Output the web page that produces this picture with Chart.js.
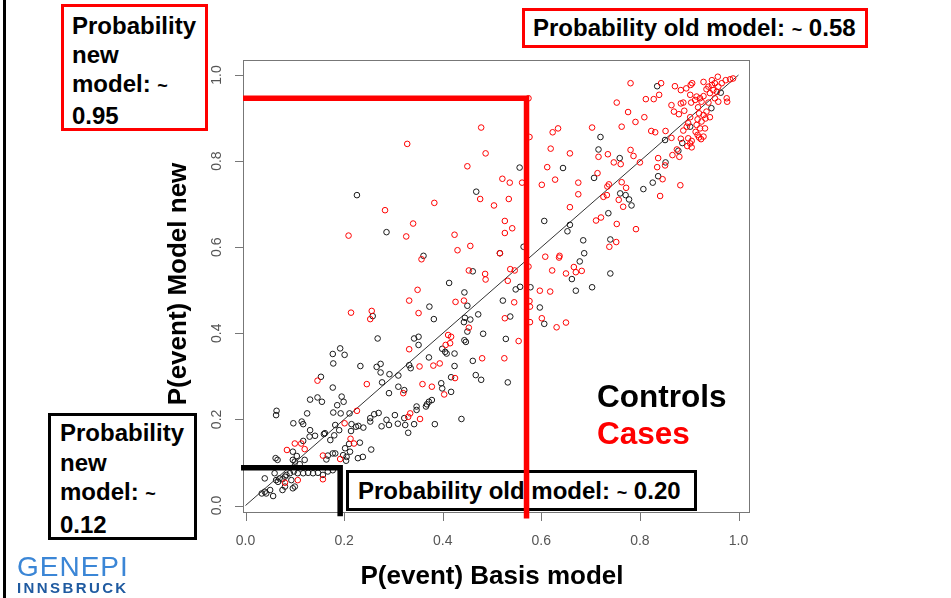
<!DOCTYPE html>
<html>
<head>
<meta charset="utf-8">
<script src="https://cdn.jsdelivr.net/npm/chart.js@4.4.1/dist/chart.umd.min.js"></script>
<style>
body { margin: 0; background: #fff; }
#wrap { position: relative; width: 951px; height: 598px; overflow: hidden; font-family: "Liberation Sans", Arial, sans-serif; }
#c { position: absolute; left: 0; top: 0; z-index: 2; }
.box { position: absolute; background: #fff; font-weight: bold; font-size: 24px; color: #000; box-sizing: border-box; z-index: 1; white-space: nowrap; }
.tilde { font-size: 18px; }
.lab { position: absolute; font-weight: bold; white-space: nowrap; z-index: 3; }
</style>
</head>
<body>
<div id="wrap">
  <div style="position:absolute;left:3px;top:0;width:3px;height:598px;background:#000;"></div>

  <div class="box" style="left:61px;top:4px;width:147px;height:127px;border:3px solid #f00;padding:4px 0 0 8px;line-height:29px;">Probability<br>new<br>model: <span class="tilde">~</span><br>0.95</div>
  <div class="box" style="left:522px;top:8px;width:346px;height:40px;border:3px solid #f00;padding:0 0 0 8px;line-height:34px;">Probability old model: <span class="tilde">~</span> 0.58</div>
  <div class="box" style="left:48px;top:413px;width:149px;height:127px;border:3px solid #000;padding:2px 0 0 9px;line-height:29.5px;">Probability<br>new<br>model: <span class="tilde">~</span><br>0.12</div>
  <div class="box" style="left:346px;top:470px;width:351px;height:41px;border:3px solid #000;padding:0 0 0 9px;line-height:35px;">Probability old model: <span class="tilde">~</span> 0.20</div>

  <div class="lab" style="left:597px;top:381px;font-size:31.5px;line-height:31px;color:#000;">Controls</div>
  <div class="lab" style="left:597px;top:418px;font-size:31.5px;line-height:31px;color:#f00;">Cases</div>

  <div class="lab" style="left:292px;top:562px;width:400px;text-align:center;font-size:26px;line-height:26px;">P(event) Basis model</div>
  <div class="lab" style="left:27px;top:269px;width:300px;height:30px;text-align:center;font-size:26px;line-height:30px;transform:rotate(-90deg);">P(event) Model new</div>

  <div class="lab" style="left:17px;top:553px;font-size:28px;line-height:28px;font-weight:normal;color:#3b86d6;letter-spacing:1px;">GENEPI</div>
  <div class="lab" style="left:17px;top:580px;font-size:15px;line-height:15px;color:#1f5aa0;letter-spacing:2.4px;">INNSBRUCK</div>

  <canvas id="c" width="951" height="598"></canvas>
</div>
<script>
// tick positions and labels
var tickValues = [0, 0.2, 0.4, 0.6, 0.8, 1.0];
var tickLabels = ['0.0', '0.2', '0.4', '0.6', '0.8', '1.0'];

// highlighted subjects: [case, control]
var markOld = [0.570, 0.192];
var markNew = [0.946, 0.088];

// controls (black)
var controlsX = [
  0.226,0.286,0.556,0.644,0.468,0.606,0.658,0.653,0.564,0.516,0.361,0.678,0.461,0.662,0.413,
  0.835,0.964,0.945,0.902,0.851,0.720,0.886,0.878,0.716,0.759,0.852,0.707,0.837,0.826,0.807,
  0.760,0.771,0.778,0.783,0.736,0.685,0.740,0.687,0.740,0.703,
  0.258,0.268,0.192,0.177,0.201,0.178,0.233,0.266,0.274,0.274,0.153,0.292,0.310,0.332,0.177,
  0.277,0.310,0.291,0.322,0.146,0.155,0.131,0.186,0.195,0.199,0.178,0.125,0.063,0.062,0.097,
  0.114,0.117,0.131,0.141,0.211,0.253,0.253,0.261,0.270,0.229,0.214,0.239,0.276,0.286,0.291,
  0.303,0.309,0.322,0.324,0.161,0.182,0.190,0.202,0.212,0.205,0.182,
  0.193,0.215,0.224,0.130,0.159,0.180,0.172,0.210,0.232,0.117,0.096,0.104,0.065,0.061,0.096,
  0.100,0.120,0.110,0.167,0.177,0.198,0.204,0.228,0.238,0.164,0.255,
  0.039,0.059,0.062,0.066,0.069,0.075,0.080,0.083,0.090,0.098,0.106,0.117,0.127,0.137,0.147,
  0.157,0.167,0.177,0.093,0.100,0.096,0.080,0.075,0.050,0.039,0.042,0.056,0.033,
  0.373,0.382,0.444,0.450,0.472,0.445,0.456,0.443,0.450,0.482,0.342,0.351,0.351,0.335,0.444,
  0.447,0.399,0.405,0.408,0.424,0.372,0.424,0.461,0.528,0.522,0.537,0.548,0.557,0.578,0.670,
  0.597,0.606,0.467,0.478,0.417,0.532,0.397,0.399,0.417,0.378,0.372,0.368,0.366,0.347,0.347,
  0.342,0.330,0.384,0.438
];
var controlsY = [
  0.721,0.635,0.785,0.784,0.729,0.661,0.652,0.637,0.601,0.586,0.580,0.567,0.544,0.526,0.517,
  0.974,0.959,0.923,0.880,0.849,0.856,0.842,0.824,0.827,0.807,0.797,0.761,0.765,0.750,0.735,
  0.725,0.721,0.711,0.697,0.679,0.616,0.618,0.586,0.539,0.507,
  0.440,0.388,0.365,0.352,0.350,0.330,0.324,0.322,0.329,0.309,0.299,0.305,0.302,0.326,0.274,
  0.286,0.276,0.261,0.268,0.251,0.241,0.246,0.233,0.253,0.241,0.216,0.214,0.220,0.210,0.191,
  0.195,0.189,0.175,0.162,0.214,0.203,0.195,0.212,0.215,0.185,0.173,0.181,0.184,0.199,0.187,
  0.210,0.190,0.203,0.187,0.168,0.187,0.175,0.133,0.125,0.113,0.121,
  0.214,0.189,0.183,0.160,0.166,0.163,0.152,0.143,0.146,0.150,0.125,0.115,0.106,0.110,0.106,
  0.102,0.106,0.096,0.116,0.121,0.117,0.104,0.110,0.113,0.107,0.130,
  0.063,0.075,0.059,0.055,0.063,0.061,0.067,0.071,0.075,0.079,0.075,0.075,0.076,0.075,0.076,
  0.071,0.079,0.082,0.059,0.044,0.040,0.044,0.036,0.036,0.032,0.028,0.022,0.028,
  0.462,0.433,0.495,0.464,0.444,0.436,0.432,0.426,0.404,0.399,0.388,0.392,0.373,0.319,0.384,
  0.380,0.364,0.357,0.353,0.353,0.344,0.324,0.336,0.387,0.476,0.439,0.502,0.508,0.507,0.499,
  0.460,0.422,0.303,0.292,0.298,0.286,0.284,0.272,0.264,0.245,0.241,0.235,0.230,0.230,0.222,
  0.189,0.169,0.189,0.201
];

// cases (red)
var casesX = [
  0.328,0.283,0.209,0.326,0.574,0.478,0.576,0.623,0.634,0.487,0.619,0.658,0.450,0.612,0.521,
  0.536,0.561,0.601,0.628,0.675,0.476,0.504,0.534,0.675,0.383,0.658,0.526,0.541,0.526,0.340,
  0.424,0.456,0.430,0.516,0.357,0.608,0.637,0.636,0.574,0.537,0.546,0.453,0.486,0.487,0.622,
  0.650,0.666,0.670,0.532,
  0.781,0.843,0.871,0.883,0.894,0.903,0.906,0.929,0.939,0.946,0.952,0.959,0.949,0.956,0.942,
  0.946,0.958,0.935,0.966,0.974,0.983,0.989,0.976,0.977,0.929,0.922,0.915,0.902,0.952,0.959,
  0.812,0.828,0.839,0.753,0.864,0.883,0.888,0.904,0.912,0.925,0.939,0.935,0.929,0.918,0.920,
  0.776,0.869,0.879,0.890,0.809,0.791,0.902,0.917,0.925,0.933,0.942,0.898,0.895,0.915,0.922,
  0.932,0.703,0.763,0.823,0.831,0.852,0.888,0.913,0.917,0.929,0.924,0.920,0.898,0.905,0.902,
  0.864,0.883,0.896,0.905,0.875,0.716,0.735,0.781,0.787,0.747,0.761,0.800,0.837,0.866,0.880,
  0.851,0.835,0.714,0.846,0.882,0.763,0.737,0.734,0.772,0.726,0.733,0.757,0.766,0.841,0.711,
  0.721,0.753,0.792,0.752,0.738,0.682,
  0.332,0.214,0.256,0.253,0.332,0.146,0.246,0.320,0.226,0.201,0.213,0.220,0.100,0.113,0.120,
  0.084,0.157,0.192,0.106,0.157,0.080,0.349,0.351,0.426,0.443,0.453,0.411,0.417,0.406,0.415,
  0.353,0.381,0.394,0.480,0.526,0.545,0.554,0.525,0.576,0.577,0.577,0.597,0.618,0.601,0.631,
  0.650,0.425,0.359,0.378,0.403,0.334,0.330,0.354
];
var casesY = [
  0.840,0.686,0.627,0.625,0.946,0.878,0.856,0.867,0.876,0.818,0.829,0.818,0.788,0.786,0.759,
  0.750,0.750,0.745,0.757,0.750,0.712,0.697,0.712,0.723,0.703,0.693,0.661,0.644,0.633,0.655,
  0.629,0.603,0.593,0.586,0.572,0.578,0.580,0.576,0.555,0.549,0.546,0.546,0.538,0.525,0.546,
  0.539,0.554,0.542,0.522,
  0.981,0.981,0.974,0.965,0.969,0.977,0.981,0.984,0.973,0.977,0.981,0.973,0.965,0.961,0.958,
  0.988,0.996,0.967,0.981,0.988,0.990,0.992,0.946,0.938,0.951,0.946,0.950,0.954,0.946,0.938,
  0.944,0.944,0.954,0.936,0.930,0.934,0.936,0.936,0.942,0.938,0.936,0.915,0.907,0.925,0.911,
  0.914,0.915,0.909,0.917,0.902,0.891,0.902,0.897,0.892,0.899,0.902,0.888,0.880,0.884,0.876,
  0.876,0.878,0.880,0.870,0.867,0.870,0.871,0.868,0.861,0.857,0.851,0.855,0.853,0.847,0.841,
  0.854,0.852,0.835,0.832,0.827,0.810,0.816,0.826,0.812,0.797,0.793,0.797,0.807,0.814,0.810,
  0.790,0.786,0.772,0.758,0.744,0.751,0.746,0.741,0.738,0.717,0.721,0.710,0.694,0.719,0.662,
  0.669,0.654,0.642,0.612,0.601,0.545,
  0.476,0.448,0.452,0.433,0.363,0.290,0.282,0.261,0.220,0.191,0.155,0.144,0.144,0.144,0.131,
  0.129,0.116,0.108,0.059,0.061,0.053,0.501,0.447,0.473,0.476,0.413,0.396,0.392,0.373,0.377,
  0.323,0.325,0.330,0.342,0.435,0.472,0.382,0.342,0.475,0.462,0.426,0.499,0.497,0.435,0.414,
  0.425,0.296,0.282,0.276,0.258,0.214,0.206,0.201
];

// axis range as R draws it (a bit wider than 0..1)
var xMin = -0.0051, xMax = 1.0233;
var yMin = -0.0174, yMax = 1.0349;

function toPoints(xs, ys) {
  return xs.map(function (x, i) { return { x: x, y: ys[i] }; });
}

var rFrame = {
  id: 'rFrame',
  beforeDatasetsDraw: function (chart) {
    var ctx = chart.ctx, a = chart.chartArea;
    var sx = chart.scales.x, sy = chart.scales.y;
    ctx.save();
    ctx.strokeStyle = '#777';
    ctx.lineWidth = 1;
    ctx.strokeRect(a.left + 0.5, a.top + 0.5, a.right - a.left - 1, a.bottom - a.top - 1);
    ctx.beginPath();
    tickValues.forEach(function (v) {
      var px = Math.round(sx.getPixelForValue(v)) + 0.5;
      ctx.moveTo(px, a.bottom);
      ctx.lineTo(px, a.bottom + 8);
      var py = Math.round(sy.getPixelForValue(v)) + 0.5;
      ctx.moveTo(a.left, py);
      ctx.lineTo(a.left - 8, py);
    });
    ctx.stroke();
    ctx.fillStyle = '#555';
    ctx.font = '14px "Liberation Sans", Arial, sans-serif';
    ctx.textAlign = 'center';
    ctx.textBaseline = 'middle';
    tickValues.forEach(function (v, i) {
      ctx.fillText(tickLabels[i], sx.getPixelForValue(v), 541);
      ctx.save();
      ctx.translate(217, sy.getPixelForValue(v));
      ctx.rotate(-Math.PI / 2);
      ctx.fillText(tickLabels[i], 0, 0);
      ctx.restore();
    });
    ctx.restore();
  }
};

var chart = new Chart(document.getElementById('c'), {
  type: 'scatter',
  data: {
    datasets: [
      {
        label: 'case marker',
        data: [{ x: xMin, y: markNew[0] }, { x: markOld[0], y: markNew[0] }, { x: markOld[0], y: -0.03 }],
        showLine: true, borderColor: '#f00', borderWidth: 5.5, pointRadius: 0,
        borderJoinStyle: 'miter', clip: false, order: 0
      },
      {
        label: 'control marker',
        data: [{ x: xMin - 0.004, y: markNew[1] }, { x: markOld[1], y: markNew[1] }, { x: markOld[1], y: -0.025 }],
        showLine: true, borderColor: '#000', borderWidth: 5.5, pointRadius: 0,
        borderJoinStyle: 'miter', clip: false, order: 0
      },
      {
        label: 'Cases',
        data: toPoints(casesX, casesY),
        pointStyle: 'circle', pointRadius: 2.8, pointBorderWidth: 1,
        borderColor: '#ff0000', backgroundColor: 'rgba(0,0,0,0)', order: 2
      },
      {
        label: 'Controls',
        data: toPoints(controlsX, controlsY),
        pointStyle: 'circle', pointRadius: 2.8, pointBorderWidth: 1,
        borderColor: '#1a1a1a', backgroundColor: 'rgba(0,0,0,0)', order: 3
      },
      {
        label: 'identity',
        data: [{ x: 0, y: 0 }, { x: 1, y: 1 }],
        showLine: true, borderColor: '#333', borderWidth: 1, pointRadius: 0, order: 4
      }
    ]
  },
  options: {
    responsive: false,
    animation: false,
    events: [],
    layout: { padding: { left: 243, top: 60, right: 201, bottom: 85 } },
    plugins: { legend: { display: false }, tooltip: { enabled: false } },
    scales: {
      x: { type: 'linear', display: false, min: xMin, max: xMax },
      y: { type: 'linear', display: false, min: yMin, max: yMax }
    }
  },
  plugins: [rFrame]
});
</script>
</body>
</html>
